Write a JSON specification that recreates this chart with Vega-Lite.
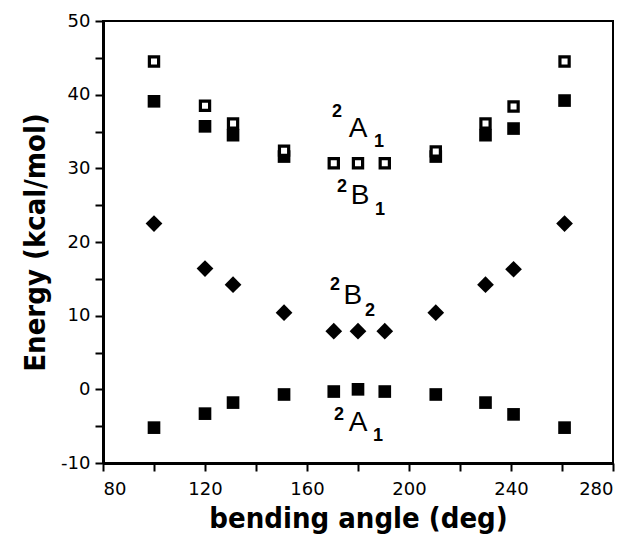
{
  "$schema": "https://vega.github.io/schema/vega-lite/v6.json",
  "width": 510,
  "height": 442,
  "autosize": {"type": "none"},
  "padding": {"left": 103, "top": 21, "right": 22, "bottom": 75},
  "background": "white",
  "config": {
    "view": {"stroke": "black", "strokeWidth": 2},
    "axis": {
      "domainColor": "black", "domainWidth": 3,
      "tickColor": "black", "tickWidth": 2, "tickSize": 8,
      "labelFont": "DejaVu Sans", "labelFontSize": 18, "labelColor": "black",
      "titleFont": "DejaVu Sans Condensed", "titleFontWeight": "bold", "titleFontSize": 29, "titleColor": "black",
      "grid": false
    }
  },
  "datasets": {
    "pts": [
      {"angle": 100, "energy": -5.2, "state": "2A1 ground"},
      {"angle": 120, "energy": -3.3, "state": "2A1 ground"},
      {"angle": 131, "energy": -1.8, "state": "2A1 ground"},
      {"angle": 151, "energy": -0.7, "state": "2A1 ground"},
      {"angle": 170.5, "energy": -0.3, "state": "2A1 ground"},
      {"angle": 180, "energy": 0, "state": "2A1 ground"},
      {"angle": 190.5, "energy": -0.3, "state": "2A1 ground"},
      {"angle": 210.5, "energy": -0.7, "state": "2A1 ground"},
      {"angle": 230, "energy": -1.8, "state": "2A1 ground"},
      {"angle": 241, "energy": -3.4, "state": "2A1 ground"},
      {"angle": 261, "energy": -5.2, "state": "2A1 ground"},
      {"angle": 100, "energy": 39.1, "state": "2A1 excited"},
      {"angle": 120, "energy": 35.7, "state": "2A1 excited"},
      {"angle": 131, "energy": 34.5, "state": "2A1 excited"},
      {"angle": 151, "energy": 31.6, "state": "2A1 excited"},
      {"angle": 210.5, "energy": 31.6, "state": "2A1 excited"},
      {"angle": 230, "energy": 34.5, "state": "2A1 excited"},
      {"angle": 241, "energy": 35.4, "state": "2A1 excited"},
      {"angle": 261, "energy": 39.2, "state": "2A1 excited"},
      {"angle": 100, "energy": 22.5, "state": "2B2"},
      {"angle": 120, "energy": 16.4, "state": "2B2"},
      {"angle": 131, "energy": 14.2, "state": "2B2"},
      {"angle": 151, "energy": 10.4, "state": "2B2"},
      {"angle": 170.5, "energy": 7.9, "state": "2B2"},
      {"angle": 180, "energy": 7.9, "state": "2B2"},
      {"angle": 190.5, "energy": 7.9, "state": "2B2"},
      {"angle": 210.5, "energy": 10.4, "state": "2B2"},
      {"angle": 230, "energy": 14.2, "state": "2B2"},
      {"angle": 241, "energy": 16.3, "state": "2B2"},
      {"angle": 261, "energy": 22.5, "state": "2B2"},
      {"angle": 100, "energy": 44.5, "state": "2B1"},
      {"angle": 120, "energy": 38.5, "state": "2B1"},
      {"angle": 131, "energy": 36.1, "state": "2B1"},
      {"angle": 151, "energy": 32.4, "state": "2B1"},
      {"angle": 170.5, "energy": 30.7, "state": "2B1"},
      {"angle": 180, "energy": 30.7, "state": "2B1"},
      {"angle": 190.5, "energy": 30.7, "state": "2B1"},
      {"angle": 210.5, "energy": 32.3, "state": "2B1"},
      {"angle": 230, "energy": 36.1, "state": "2B1"},
      {"angle": 241, "energy": 38.4, "state": "2B1"},
      {"angle": 261, "energy": 44.5, "state": "2B1"}
    ],
    "labels": [
      {"angle": 171.8, "energy": 37.6, "text": "2", "role": "script"},
      {"angle": 180, "energy": 35.4, "text": "A", "role": "main"},
      {"angle": 188.2, "energy": 33.6, "text": "1", "role": "script"},
      {"angle": 173.7, "energy": 27.5, "text": "2", "role": "script"},
      {"angle": 180.8, "energy": 26.2, "text": "B", "role": "main"},
      {"angle": 188.6, "energy": 24.3, "text": "1", "role": "script"},
      {"angle": 171, "energy": 14.2, "text": "2", "role": "script"},
      {"angle": 178, "energy": 12.7, "text": "B", "role": "main"},
      {"angle": 184.7, "energy": 10.7, "text": "2", "role": "script"},
      {"angle": 172.5, "energy": -3.5, "text": "2", "role": "script"},
      {"angle": 180, "energy": -4.6, "text": "A", "role": "main"},
      {"angle": 187.8, "energy": -6.4, "text": "1", "role": "script"}
    ]
  },
  "encoding": {
    "x": {
      "field": "angle", "type": "quantitative",
      "scale": {"domain": [80, 280], "nice": false, "zero": false},
      "axis": {
        "title": "bending angle (deg)",
        "values": [80, 100, 120, 140, 160, 180, 200, 220, 240, 260, 280],
        "labelExpr": "datum.value % 40 === 0 ? datum.label : ''",
        "labelPadding": 9, "titlePadding": 6
      }
    },
    "y": {
      "field": "energy", "type": "quantitative",
      "scale": {"domain": [-10, 50], "nice": false, "zero": false},
      "axis": {
        "title": "Energy (kcal/mol)",
        "values": [-10, -5, 0, 5, 10, 15, 20, 25, 30, 35, 40, 45, 50],
        "labelExpr": "datum.value % 10 === 0 ? replace(datum.label, '\u2212', '-') : ''",
        "labelPadding": 5, "titlePadding": 10
      }
    }
  },
  "layer": [
    {
      "data": {"name": "pts"},
      "transform": [{"filter": "datum.state === '2A1 ground' || datum.state === '2A1 excited'"}],
      "mark": {"type": "point", "shape": "square", "filled": true, "color": "black", "size": 160, "opacity": 1}
    },
    {
      "data": {"name": "pts"},
      "transform": [{"filter": "datum.state === '2B2'"}],
      "mark": {"type": "point", "shape": "diamond", "filled": true, "color": "black", "size": 280, "opacity": 1}
    },
    {
      "data": {"name": "pts"},
      "transform": [{"filter": "datum.state === '2B1'"}],
      "mark": {"type": "point", "shape": "square", "filled": false, "fill": "white", "fillOpacity": 1, "stroke": "black", "strokeWidth": 3.2, "size": 85, "opacity": 1}
    },
    {
      "data": {"name": "labels"},
      "transform": [{"filter": "datum.role === 'main'"}],
      "mark": {"type": "text", "font": "Liberation Sans", "fontSize": 28, "color": "black", "align": "center", "baseline": "middle"},
      "encoding": {"text": {"field": "text"}}
    },
    {
      "data": {"name": "labels"},
      "transform": [{"filter": "datum.role === 'script'"}],
      "mark": {"type": "text", "font": "Liberation Sans", "fontSize": 18, "fontWeight": "bold", "color": "black", "align": "center", "baseline": "middle"},
      "encoding": {"text": {"field": "text"}}
    }
  ]
}
